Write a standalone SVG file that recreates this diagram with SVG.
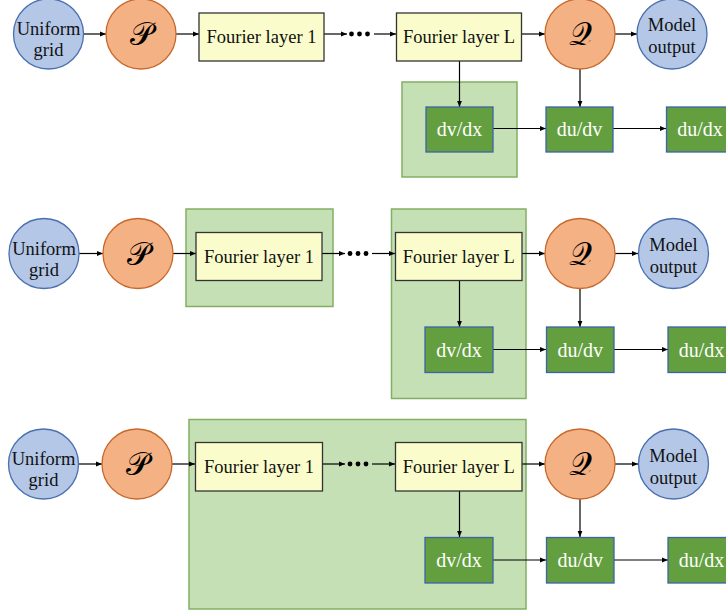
<svg xmlns="http://www.w3.org/2000/svg" width="726" height="613" viewBox="0 0 726 613">
<defs>
<marker id="ah" viewBox="0 0 6 6" refX="6" refY="3" markerWidth="6" markerHeight="6" markerUnits="userSpaceOnUse" orient="auto">
<path d="M0,0.6 L6,3 L0,5.4 z" fill="#000"/>
</marker>
<style>
.grid{fill:#b4c7e7;stroke:#4a6fb0;stroke-width:1.3}
.proj{fill:#f4b183;stroke:#c8692b;stroke-width:1.3}
.four{fill:#fafdcb;stroke:#333;stroke-width:1.3}
.cont{fill:#c5e0b4;stroke:#82ae63;stroke-width:1.5}
.der{fill:#639e3f;stroke:#3d64a8;stroke-width:1.3}
.t{font-family:"Liberation Serif","Times New Roman",serif;font-size:18.5px;fill:#111;text-anchor:middle}
.tw{font-family:"Liberation Serif","Times New Roman",serif;font-size:20px;fill:#fff;text-anchor:middle}
.m{font-family:"DejaVu Sans","DejaVu Serif","Noto Sans",serif;font-size:32px;fill:#000;text-anchor:middle}
.c{fill:none;stroke:#000;stroke-width:1.2;marker-end:url(#ah)}
.dot{fill:#000}
</style>
</defs>
<rect width="726" height="613" fill="#fff"/>

<!-- containers -->
<g id="containers">
<rect id="c1" class="cont" x="402" y="82" width="115" height="95"/>
<rect id="c2a" class="cont" x="186" y="209" width="147" height="97.5"/>
<rect id="c2b" class="cont" x="391.5" y="209" width="134.5" height="189.5"/>
<rect id="c3" class="cont" x="189" y="419.5" width="337" height="189.5"/>
</g>

<!-- connectors -->
<g id="connectors">
<line class="c" x1="83" y1="34" x2="106" y2="34"/>
<line class="c" x1="176" y1="34" x2="199" y2="34"/>
<line class="c" x1="324" y1="34" x2="347" y2="34"/>
<line class="c" x1="374" y1="34" x2="396" y2="34"/>
<line class="c" x1="522" y1="34" x2="545" y2="34"/>
<line class="c" x1="614" y1="34" x2="637" y2="34"/>
<line class="c" x1="459.5" y1="61" x2="459.5" y2="107"/>
<line class="c" x1="580" y1="69" x2="580" y2="107"/>
<line class="c" x1="493" y1="128.5" x2="546" y2="128.5"/>
<line class="c" x1="613" y1="128.5" x2="666" y2="128.5"/>

<line class="c" x1="79" y1="253.5" x2="103" y2="253.5"/>
<line class="c" x1="173" y1="253.5" x2="196" y2="253.5"/>
<line class="c" x1="322" y1="253.5" x2="345" y2="253.5"/>
<line class="c" x1="372" y1="253.5" x2="395" y2="253.5"/>
<line class="c" x1="522" y1="253.5" x2="545" y2="253.5"/>
<line class="c" x1="615" y1="253.5" x2="638" y2="253.5"/>
<line class="c" x1="459.5" y1="281" x2="459.5" y2="327"/>
<line class="c" x1="580" y1="288.5" x2="580" y2="327"/>
<line class="c" x1="493" y1="349.5" x2="546" y2="349.5"/>
<line class="c" x1="614" y1="349.5" x2="668" y2="349.5"/>

<line class="c" x1="79" y1="464" x2="102" y2="464"/>
<line class="c" x1="172" y1="464" x2="195" y2="464"/>
<line class="c" x1="322" y1="464" x2="345" y2="464"/>
<line class="c" x1="372" y1="464" x2="395" y2="464"/>
<line class="c" x1="522" y1="464" x2="545" y2="464"/>
<line class="c" x1="615" y1="464" x2="638" y2="464"/>
<line class="c" x1="459.5" y1="491" x2="459.5" y2="537"/>
<line class="c" x1="580" y1="499" x2="580" y2="537"/>
<line class="c" x1="493" y1="560" x2="546" y2="560"/>
<line class="c" x1="614" y1="560" x2="668" y2="560"/>

<circle class="dot" cx="351.5" cy="34" r="2.4"/>
<circle class="dot" cx="359.5" cy="34" r="2.4"/>
<circle class="dot" cx="367.5" cy="34" r="2.4"/>
<circle class="dot" cx="350" cy="253.5" r="2.4"/>
<circle class="dot" cx="358" cy="253.5" r="2.4"/>
<circle class="dot" cx="366" cy="253.5" r="2.4"/>
<circle class="dot" cx="350" cy="464" r="2.4"/>
<circle class="dot" cx="358" cy="464" r="2.4"/>
<circle class="dot" cx="366" cy="464" r="2.4"/>
</g>

<!-- row 1 -->
<g id="grid1"><circle class="grid" cx="48.5" cy="34" r="35"/><text class="t" x="48.5" y="35">Uniform</text><text class="t" x="48.5" y="56">grid</text></g>
<g id="p1"><circle class="proj" cx="141" cy="34" r="35"/><text class="m" x="141" y="45">𝒫</text></g>
<g id="f1a"><rect class="four" x="199" y="13" width="125" height="48"/><text class="t" x="261.5" y="43">Fourier layer 1</text></g>
<g id="f1l"><rect class="four" x="396.5" y="13" width="125" height="48"/><text class="t" x="459" y="43">Fourier layer L</text></g>
<g id="q1"><circle class="proj" cx="580" cy="34" r="35"/><text class="m" x="580" y="45">𝒬</text></g>
<g id="out1"><circle class="grid" cx="672" cy="34" r="35"/><text class="t" x="672" y="31">Model</text><text class="t" x="672" y="53">output</text></g>
<g id="dvdx1"><rect class="der" x="426" y="107" width="67" height="45"/><text class="tw" x="459.5" y="136">dv/dx</text></g>
<g id="dudv1"><rect class="der" x="546" y="107" width="67" height="45"/><text class="tw" x="579.5" y="136">du/dv</text></g>
<g id="dudx1"><rect class="der" x="666.5" y="107" width="67" height="45"/><text class="tw" x="700" y="136">du/dx</text></g>

<!-- row 2 -->
<g id="grid2"><circle class="grid" cx="44" cy="253.5" r="35"/><text class="t" x="44" y="254.5">Uniform</text><text class="t" x="44" y="275.5">grid</text></g>
<g id="p2"><circle class="proj" cx="138" cy="253.5" r="35"/><text class="m" x="138" y="264.5">𝒫</text></g>
<g id="f2a"><rect class="four" x="196" y="232.5" width="126" height="48"/><text class="t" x="259" y="262.5">Fourier layer 1</text></g>
<g id="f2l"><rect class="four" x="395.5" y="232.5" width="126.5" height="48"/><text class="t" x="458.75" y="262.5">Fourier layer L</text></g>
<g id="q2"><circle class="proj" cx="580" cy="253.5" r="35"/><text class="m" x="580" y="264.5">𝒬</text></g>
<g id="out2"><circle class="grid" cx="673.5" cy="253.5" r="35"/><text class="t" x="673.5" y="251">Model</text><text class="t" x="673.5" y="273">output</text></g>
<g id="dvdx2"><rect class="der" x="425" y="327" width="68" height="45.5"/><text class="tw" x="459" y="356.5">dv/dx</text></g>
<g id="dudv2"><rect class="der" x="546.5" y="327" width="67.5" height="45.5"/><text class="tw" x="580.25" y="356.5">du/dv</text></g>
<g id="dudx2"><rect class="der" x="668" y="327" width="67" height="45.5"/><text class="tw" x="701.5" y="356.5">du/dx</text></g>

<!-- row 3 -->
<g id="grid3"><circle class="grid" cx="43.5" cy="464" r="35"/><text class="t" x="43.5" y="465">Uniform</text><text class="t" x="43.5" y="486">grid</text></g>
<g id="p3"><circle class="proj" cx="137" cy="464" r="35"/><text class="m" x="137" y="475">𝒫</text></g>
<g id="f3a"><rect class="four" x="195.5" y="442.5" width="127" height="48.5"/><text class="t" x="259" y="473">Fourier layer 1</text></g>
<g id="f3l"><rect class="four" x="395.5" y="442.5" width="126.5" height="48.5"/><text class="t" x="458.75" y="473">Fourier layer L</text></g>
<g id="q3"><circle class="proj" cx="580" cy="464" r="35"/><text class="m" x="580" y="475">𝒬</text></g>
<g id="out3"><circle class="grid" cx="673.5" cy="464" r="35"/><text class="t" x="673.5" y="461.5">Model</text><text class="t" x="673.5" y="483.5">output</text></g>
<g id="dvdx3"><rect class="der" x="425" y="537.5" width="68" height="45.5"/><text class="tw" x="459" y="567">dv/dx</text></g>
<g id="dudv3"><rect class="der" x="546.5" y="537.5" width="67.5" height="45.5"/><text class="tw" x="580.25" y="567">du/dv</text></g>
<g id="dudx3"><rect class="der" x="668" y="537.5" width="67" height="45.5"/><text class="tw" x="701.5" y="567">du/dx</text></g>
</svg>
